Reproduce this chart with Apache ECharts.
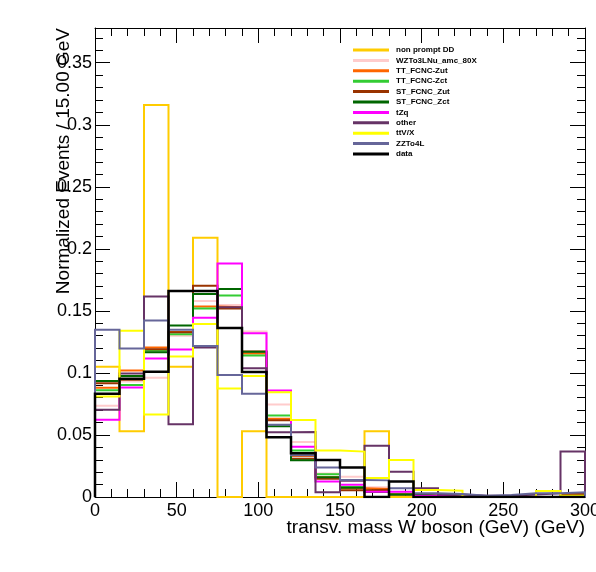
<!DOCTYPE html>
<html>
<head>
<meta charset="utf-8">
<script src="https://cdn.jsdelivr.net/npm/echarts@6/dist/echarts.min.js"></script>
<style>
html, body { margin: 0; padding: 0; background: #fff; }
#chart { width: 596px; height: 572px; }
</style>
</head>
<body>
<div id="chart"></div>
<script>
// ========================================
// data: normalized events per 15 GeV bin, 0..300 GeV
// ========================================

const binWidth = 15;

const xTitle = "transv. mass W boson (GeV) (GeV)";
const yTitle = "Normalized Events / 15.00 GeV";

const sampleNames = [
    "non prompt DD", "WZTo3LNu_amc_80X", "TT_FCNC-Zut", "TT_FCNC-Zct",
    "ST_FCNC_Zut", "ST_FCNC_Zct", "tZq", "other", "ttV/X", "ZZTo4L", "data"
];

const sampleColors = [
    "#ffcc00", "#ffcccc", "#ff6600", "#33cc33",
    "#993300", "#006600", "#ff00ff", "#663366", "#ffff00", "#666699", "#000000"
];

const nonPromptDD = [0.105, 0.053, 0.316, 0.105, 0.209, 0, 0.053, 0, 0, 0, 0, 0.053, 0, 0, 0, 0, 0, 0, 0, 0];
const wzTo3LNu = [0.0736, 0.093, 0.0962, 0.130, 0.158, 0.1548, 0.1333, 0.0745, 0.0444, 0.019, 0.0164, 0.0078, 0.003, 0.001, 0.0005, 0, 0, 0, 0, 0];
const ttFcncZut = [0.088, 0.1019, 0.1204, 0.133, 0.1535, 0.153, 0.1156, 0.063, 0.033, 0.016, 0.007, 0.0065, 0.002, 0.001, 0, 0, 0, 0, 0, 0.001];
const ttFcncZct = [0.086, 0.0903, 0.118, 0.1312, 0.152, 0.1624, 0.114, 0.0656, 0.0374, 0.0183, 0.008, 0.005, 0.002, 0.001, 0, 0, 0, 0, 0, 0.001];
const stFcncZut = [0.0917, 0.0944, 0.1191, 0.1328, 0.1702, 0.1519, 0.1172, 0.0618, 0.0309, 0.0148, 0.0054, 0.0059, 0.002, 0.001, 0, 0, 0, 0, 0, 0.0024];
const stFcncZct = [0.0935, 0.0976, 0.1167, 0.1382, 0.1637, 0.1677, 0.117, 0.057, 0.0296, 0.016, 0.0075, 0.004, 0.002, 0.001, 0, 0, 0, 0, 0, 0.001];
const tZq = [0.0623, 0.0882, 0.1116, 0.1188, 0.1444, 0.1882, 0.132, 0.0858, 0.0406, 0.0124, 0.0099, 0.0043, 0.0043, 0.001, 0, 0, 0, 0, 0, 0];
const other = [0.0704, 0.0995, 0.1616, 0.0586, 0.1204, 0.153, 0.1038, 0.0522, 0.0524, 0.0038, 0.013, 0.0414, 0.0204, 0.007, 0.002, 0.001, 0.001, 0.002, 0.003, 0.0366];
const ttVX = [0.081, 0.134, 0.0664, 0.1132, 0.1395, 0.0874, 0.0976, 0.0844, 0.0621, 0.0374, 0.0366, 0.0153, 0.0298, 0.0056, 0.0051, 0, 0, 0, 0.0048, 0.001];
const zzTo4L = [0.1347, 0.1196, 0.1422, 0.1347, 0.1218, 0.0984, 0.0833, 0.0583, 0.0336, 0.0237, 0.0137, 0.0134, 0.007, 0.003, 0.0024, 0.001, 0.0016, 0.003, 0.003, 0.0038];
const data = [0.0833, 0.0954, 0.101, 0.1661, 0.1661, 0.1363, 0.1008, 0.0481, 0.0352, 0.0298, 0.0237, 0, 0.0124, 0, 0, 0, 0, 0, 0, 0];

const sampleValues = [
    nonPromptDD, wzTo3LNu, ttFcncZut, ttFcncZct, stFcncZut,
    stFcncZct, tZq, other, ttVX, zzTo4L, data
];

// ========================================
// histogram outline -> step line points
// ========================================

function histPoints(vals) {
    let pts = [[0, 0]];
    vals.forEach((v, i) => {
        pts.push([i * binWidth, v]);
    });
    pts.push([vals.length * binWidth, vals[vals.length - 1]]);
    pts.push([vals.length * binWidth, 0]);
    return pts;
}

const FONT = "Liberation Sans";

const lineStyleAxis = {
    onZero: false,
    lineStyle: { color: "#000", width: 1 }
};

const tickStyle = {
    inside: true,
    length: 15,
    lineStyle: { color: "#000", width: 1 }
};

const minorStyle = {
    show: true,
    splitNumber: 5,
    length: 8,
    lineStyle: { color: "#000", width: 1 }
};

const chart = echarts.init(document.getElementById("chart"));

chart.setOption({
    animation: false,
    backgroundColor: "#fff",
    grid: {
        left: 95, right: 11, top: 28, bottom: 75,
        containLabel: false,
        outerBoundsMode: "none"
    },
    // axis titles, ROOT style (right / top aligned)
    graphic: [{
        type: "text",
        x: 585,
        y: 518,
        style: {
            text: xTitle,
            font: "19px " + FONT,
            fill: "#000",
            align: "right",
            verticalAlign: "top"
        }
    }, {
        type: "text",
        x: 64,
        y: 28,
        rotation: Math.PI / 2,
        style: {
            text: yTitle,
            font: "19px " + FONT,
            fill: "#000",
            align: "right",
            verticalAlign: "middle"
        }
    }],
    legend: {
        orient: "vertical",
        left: 353,
        top: 45,
        padding: 0,
        icon: "rect",
        itemWidth: 36,
        itemHeight: 3,
        itemGap: 0.4,
        selectedMode: false,
        textStyle: {
            fontFamily: FONT,
            fontSize: 8,
            fontWeight: "bold",
            color: "#000",
            lineHeight: 10,
            padding: [0, 0, 0, 2]
        },
        data: sampleNames
    },
    xAxis: [{
        type: "value",
        min: 0,
        max: 300,
        interval: 50,
        position: "bottom",
        axisLine: lineStyleAxis,
        axisTick: tickStyle,
        minorTick: minorStyle,
        splitLine: { show: false },
        axisLabel: { fontFamily: FONT, fontSize: 18, color: "#000", margin: 5 }
    }, {
        type: "value",
        min: 0,
        max: 300,
        interval: 50,
        position: "top",
        axisLine: lineStyleAxis,
        axisTick: tickStyle,
        minorTick: minorStyle,
        splitLine: { show: false },
        axisLabel: { show: false }
    }],
    yAxis: [{
        type: "value",
        min: 0,
        max: 0.378,
        interval: 0.05,
        position: "left",
        axisLine: lineStyleAxis,
        axisTick: tickStyle,
        minorTick: minorStyle,
        splitLine: { show: false },
        axisLabel: {
            fontFamily: FONT,
            fontSize: 18,
            color: "#000",
            margin: 3,
            showMaxLabel: false
        }
    }, {
        type: "value",
        min: 0,
        max: 0.378,
        interval: 0.05,
        position: "right",
        axisLine: lineStyleAxis,
        axisTick: tickStyle,
        minorTick: minorStyle,
        splitLine: { show: false },
        axisLabel: { show: false }
    }],
    series: sampleNames.map((name, i) => ({
        name: name,
        type: "line",
        step: "end",
        symbol: "none",
        xAxisIndex: 0,
        yAxisIndex: 0,
        color: sampleColors[i],
        lineStyle: {
            color: sampleColors[i],
            width: i === sampleNames.length - 1 ? 2.5 : 2,
            cap: "butt",
            join: "miter"
        },
        data: histPoints(sampleValues[i])
    }))
});
</script>
</body>
</html>
